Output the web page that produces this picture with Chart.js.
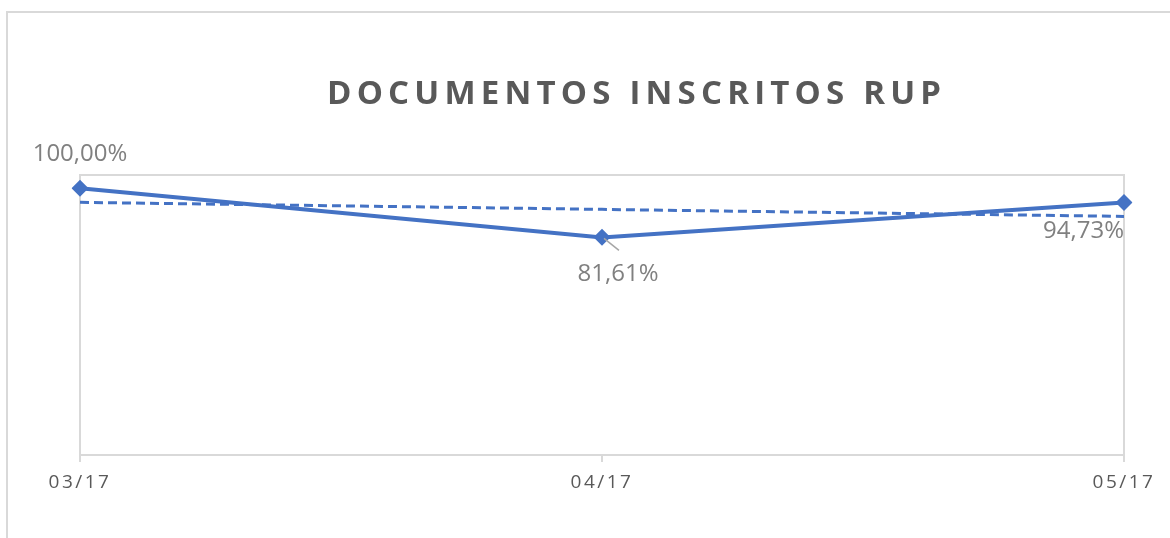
<!DOCTYPE html>
<html lang="es">
  <head>
    <meta charset="UTF-8" />
    <title>Documentos inscritos RUP</title>
    <script src="https://cdn.jsdelivr.net/npm/chart.js@4.4.1/dist/chart.umd.min.js"></script>
    <style>
      html, body { margin: 0; padding: 0; background: #fff; }
      #wrap { position: relative; width: 1170px; height: 538px; overflow: hidden; }
      #frame {
        position: absolute; left: 6px; top: 11px; width: 1200px; height: 600px;
        border-top: 2px solid #d9d9d9; border-left: 2px solid #d9d9d9;
      }
      canvas { position: absolute; left: 0; top: 0; }
    </style>
  </head>
  <body>
    <div id="wrap">
      <div id="frame"></div>
      <canvas id="rupChart" width="1170" height="538"></canvas>
    </div>
    <script>
      const chartTitle = "DOCUMENTOS INSCRITOS RUP";
      const months = ["03/17", "04/17", "05/17"];
      const inscritos = [100.0, 81.61, 94.73];
      // linear trendline as drawn by the spreadsheet
      const tendencia = [94.75, 92.11, 89.48];

      const blue = "#4472C4";
      const gridGray = "#d9d9d9";

      function pct(v) {
        return v.toFixed(2).replace(".", ",") + "%";
      }

      const decorations = {
        id: "decorations",
        beforeDraw(chart) {
          chart.ctx.letterSpacing = "2.5px"; // tick labels are spaced out
        },
        beforeDatasetsDraw(chart) {
          const ctx = chart.ctx;
          const a = chart.chartArea;
          ctx.letterSpacing = "0px";
          ctx.save();
          ctx.strokeStyle = gridGray;
          ctx.lineWidth = 2;
          ctx.beginPath();
          ctx.moveTo(a.left, a.bottom);
          ctx.lineTo(a.left, a.top);
          ctx.lineTo(a.right, a.top);
          ctx.lineTo(a.right, a.bottom);
          ctx.stroke();
          ctx.restore();
        },
        afterDatasetsDraw(chart) {
          const ctx = chart.ctx;
          const pts = chart.getDatasetMeta(1).data;
          ctx.save();
          ctx.letterSpacing = "0px";
          ctx.font = "24px 'Open Sans'";
          ctx.fillStyle = "#808080";
          ctx.textBaseline = "alphabetic";

          // first: centred above
          ctx.textAlign = "center";
          ctx.fillText(pct(inscritos[0]), pts[0].x, pts[0].y - 27);

          // middle: below right with a leader line
          ctx.strokeStyle = "#a6a6a6";
          ctx.lineWidth = 1.5;
          ctx.beginPath();
          ctx.moveTo(pts[1].x + 2, pts[1].y + 1);
          ctx.lineTo(pts[1].x + 17, pts[1].y + 13);
          ctx.stroke();
          ctx.fillText(pct(inscritos[1]), pts[1].x + 16, pts[1].y + 44);

          // last: below, right aligned
          ctx.textAlign = "right";
          ctx.fillText(pct(inscritos[2]), pts[2].x, pts[2].y + 36);
          ctx.restore();
        },
        afterDraw(chart) {
          const ctx = chart.ctx;
          ctx.save();
          ctx.letterSpacing = "5.2px";
          ctx.font = "bold 33px 'Open Sans'";
          ctx.fillStyle = "#595959";
          ctx.textAlign = "left";
          ctx.textBaseline = "alphabetic";
          ctx.fillText(chartTitle, 327, 104);
          ctx.restore();
          ctx.letterSpacing = "0px";
        },
      };

      new Chart(document.getElementById("rupChart"), {
        type: "line",
        data: {
          labels: months,
          datasets: [
            {
              label: "Tendencia",
              data: tendencia,
              borderColor: blue,
              borderWidth: 3,
              borderDash: [9, 5],
              pointRadius: 0,
              fill: false,
              tension: 0,
            },
            {
              label: "Inscritos",
              data: inscritos,
              borderColor: blue,
              backgroundColor: blue,
              borderWidth: 4,
              pointStyle: "rectRot",
              pointRadius: 8.5,
              pointBorderWidth: 0,
              fill: false,
              tension: 0,
            },
          ],
        },
        options: {
          responsive: false,
          animation: false,
          layout: { padding: { left: 80, right: 46, top: 175, bottom: 0 } },
          plugins: {
            legend: { display: false },
            tooltip: { enabled: false },
            title: { display: false },
          },
          scales: {
            x: {
              offset: false,
              afterFit: (s) => { s.height = 83; },
              grid: {
                drawOnChartArea: false,
                drawTicks: true,
                tickLength: 7,
                color: gridGray,
                lineWidth: 2,
              },
              border: { display: true, color: gridGray, width: 2 },
              ticks: {
                color: "#595959",
                padding: 9,
                maxRotation: 0,
                font: { family: "Open Sans", size: 19 },
              },
            },
            y: {
              display: false,
              min: 0,
              max: 105,
            },
          },
        },
        plugins: [decorations],
      });
    </script>
  </body>
</html>
